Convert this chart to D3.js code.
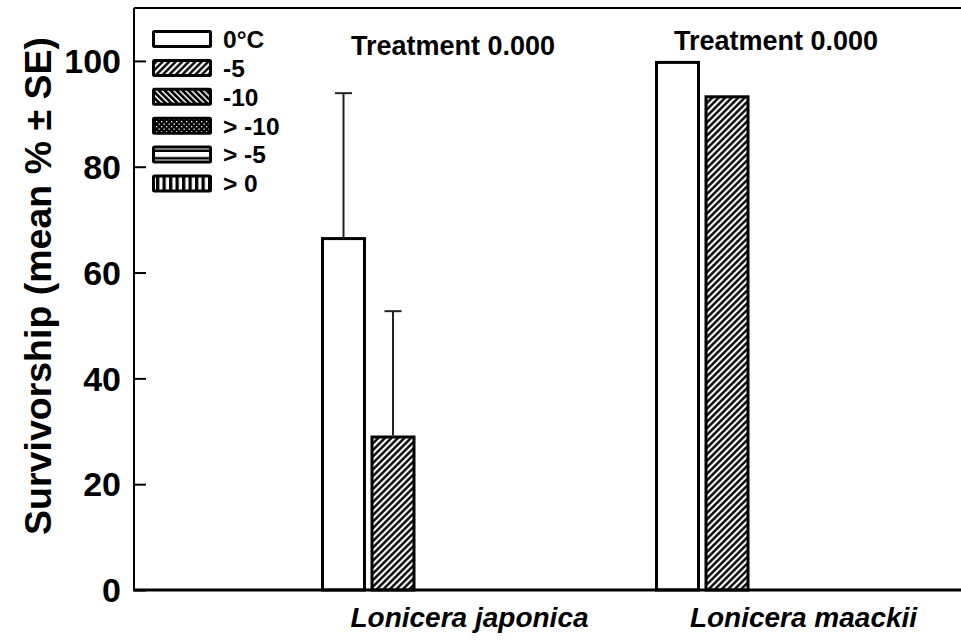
<!DOCTYPE html>
<html>
<head>
<meta charset="utf-8">
<script src="https://cdn.jsdelivr.net/npm/d3@7"></script>
<style>
  html, body { margin: 0; padding: 0; background: #fff; }
  svg { display: block; }
  text { font-family: "Liberation Sans", Arial, Helvetica, sans-serif; font-weight: bold; fill: #000; }
</style>
</head>
<body>
<svg id="chart" width="961" height="641"></svg>
<script>
// ---------------- data ----------------
const species = ["Lonicera japonica", "Lonicera maackii"];
const series = ["0°C", "-5", "-10", "> -10", "> -5", "> 0"];
const japonicaMeans = [66.7, 29.2];
const japonicaSE = [27.2, 23.5];
const maackiiMeans = [100, 93.5];
const maackiiSE = [0, 0];
const yTicks = [0, 20, 40, 60, 80, 100];
const treatmentLabels = ["Treatment 0.000", "Treatment 0.000"];
const yTitle = "Survivorship (mean % ± SE)";

const meansBySpecies = [japonicaMeans, maackiiMeans];
const seBySpecies = [japonicaSE, maackiiSE];

// ---------------- layout ----------------
const plotLeft = 134, plotRight = 961, plotTop = 8, plotBottom = 590;

const svg = d3.select("#chart");

const y = d3.scaleLinear().domain([0, 110]).range([plotBottom, plotTop]);
const xGroup = d3.scaleBand().domain(species).range([321, 989]);
const xSeries = d3.scaleBand().domain(series).range([0, 297]);

// ---------------- patterns ----------------
const defs = svg.append("defs");
function hatch(id, angle, period, sw) {
  const p = defs.append("pattern").attr("id", id)
    .attr("patternUnits", "userSpaceOnUse")
    .attr("width", period).attr("height", period)
    .attr("patternTransform", `rotate(${angle})`);
  p.append("rect").attr("width", period).attr("height", period).attr("fill", "#fff");
  p.append("line").attr("x1", period / 2).attr("x2", period / 2)
    .attr("y1", 0).attr("y2", period)
    .attr("stroke", "#000").attr("stroke-width", sw);
}
hatch("hatchFwd", 45, 4.6, 2.4);
hatch("hatchBack", -45, 4.2, 2.7);
// dots
{
  const p = defs.append("pattern").attr("id", "dots")
    .attr("patternUnits", "userSpaceOnUse").attr("width", 5).attr("height", 5);
  p.append("rect").attr("width", 5).attr("height", 5).attr("fill", "#000");
  p.append("rect").attr("x", 1).attr("y", 1).attr("width", 1.3).attr("height", 1.3).attr("fill", "#fff");
  p.append("rect").attr("x", 3.5).attr("y", 3.5).attr("width", 1.3).attr("height", 1.3).attr("fill", "#fff");
}
// horizontal stripes
{
  const p = defs.append("pattern").attr("id", "hstripes")
    .attr("patternUnits", "userSpaceOnUse").attr("width", 8).attr("height", 7.5)
    .attr("patternTransform", "translate(0,2)");
  p.append("rect").attr("width", 8).attr("height", 7.5).attr("fill", "#fff");
  p.append("rect").attr("y", 5).attr("width", 8).attr("height", 2.5).attr("fill", "#000");
}
// vertical stripes
{
  const p = defs.append("pattern").attr("id", "vstripes")
    .attr("patternUnits", "userSpaceOnUse").attr("width", 6.5).attr("height", 6.5);
  p.append("rect").attr("width", 6.5).attr("height", 6.5).attr("fill", "#fff");
  p.append("rect").attr("x", 0).attr("width", 3.3).attr("height", 6.5).attr("fill", "#000");
}
const fills = ["#fff", "url(#hatchFwd)", "url(#hatchBack)", "url(#dots)", "url(#hstripes)", "url(#vstripes)"];
const fillOf = d3.scaleOrdinal().domain(series).range(fills);

// ---------------- axes ----------------
const yAxis = d3.axisRight(y).tickValues(yTicks).tickSize(12).tickFormat("");
const gy = svg.append("g").attr("transform", `translate(${plotLeft},0)`).call(yAxis);
gy.select(".domain").remove();
gy.selectAll(".tick line").attr("stroke", "#000").attr("stroke-width", 2);

svg.append("g").selectAll("text").data(yTicks).join("text")
  .attr("x", 121).attr("y", d => y(d)).attr("dy", "0.36em")
  .attr("text-anchor", "end").attr("font-size", 34).text(d => d);

// frame lines
svg.append("line").attr("x1", plotLeft).attr("x2", plotLeft)
  .attr("y1", y(110)).attr("y2", y(0)).attr("stroke", "#000").attr("stroke-width", 2);
svg.append("line").attr("x1", plotLeft).attr("x2", plotRight)
  .attr("y1", y(110)).attr("y2", y(110)).attr("stroke", "#000").attr("stroke-width", 2);

// y title
svg.append("text")
  .attr("transform", `translate(37,${286}) rotate(-90)`)
  .attr("dy", "0.36em").attr("text-anchor", "middle")
  .attr("font-size", 37.5).text(yTitle);

// ---------------- bars ----------------
const barData = [];
species.forEach((sp, i) => {
  meansBySpecies[i].forEach((v, j) => {
    barData.push({ sp, ser: series[j], v, se: seBySpecies[i][j] });
  });
});
const barW = 45, sw = 3;
const gBars = svg.append("g");
gBars.selectAll("rect").data(barData).join("rect")
  .attr("x", d => xGroup(d.sp) + xSeries(d.ser) + sw / 2)
  .attr("y", d => y(d.v) + sw / 2)
  .attr("width", barW - sw)
  .attr("height", d => y(0) - y(d.v) - sw / 2)
  .attr("fill", d => fillOf(d.ser))
  .attr("stroke", "#000").attr("stroke-width", sw);

// error bars
const gErr = svg.append("g").attr("stroke", "#222").attr("stroke-width", 2);
barData.filter(d => d.se > 0).forEach(d => {
  const cx = xGroup(d.sp) + xSeries(d.ser) + barW / 2;
  gErr.append("line").attr("x1", cx).attr("x2", cx).attr("y1", y(d.v)).attr("y2", y(d.v + d.se));
  gErr.append("line").attr("x1", cx - 8.5).attr("x2", cx + 8.5).attr("y1", y(d.v + d.se)).attr("y2", y(d.v + d.se));
});

// x axis baseline
svg.append("line").attr("x1", plotLeft - 1).attr("x2", plotRight)
  .attr("y1", y(0)).attr("y2", y(0)).attr("stroke", "#000").attr("stroke-width", 3);

// species labels
svg.append("g").selectAll("text").data(species).join("text")
  .attr("x", d => xGroup(d) + xSeries.range()[1] / 2)
  .attr("y", 627).attr("text-anchor", "middle")
  .attr("font-size", 28).attr("font-style", "italic").text(d => d);

// treatment labels
const treatOffsets = [132, 121];
const treatY = [55, 50];
svg.append("g").selectAll("text").data(treatmentLabels).join("text")
  .attr("x", (d, i) => xGroup(species[i]) + treatOffsets[i])
  .attr("y", (d, i) => treatY[i]).attr("text-anchor", "middle")
  .attr("font-size", 27).text(d => d);

// ---------------- legend ----------------
const legY = d3.scaleLinear().domain([0, series.length - 1]).range([39, 183.5]);
const gLeg = svg.append("g");
series.forEach((s, i) => {
  const cy = legY(i);
  gLeg.append("rect").attr("x", 153.5).attr("y", cy - 7.5).attr("width", 57).attr("height", 15)
    .attr("fill", fillOf(s)).attr("stroke", "#000").attr("stroke-width", 3).attr("rx", 1);
  gLeg.append("text").attr("x", 223).attr("y", cy).attr("dy", "0.36em")
    .attr("font-size", 24.5).text(s);
});
</script>
</body>
</html>
